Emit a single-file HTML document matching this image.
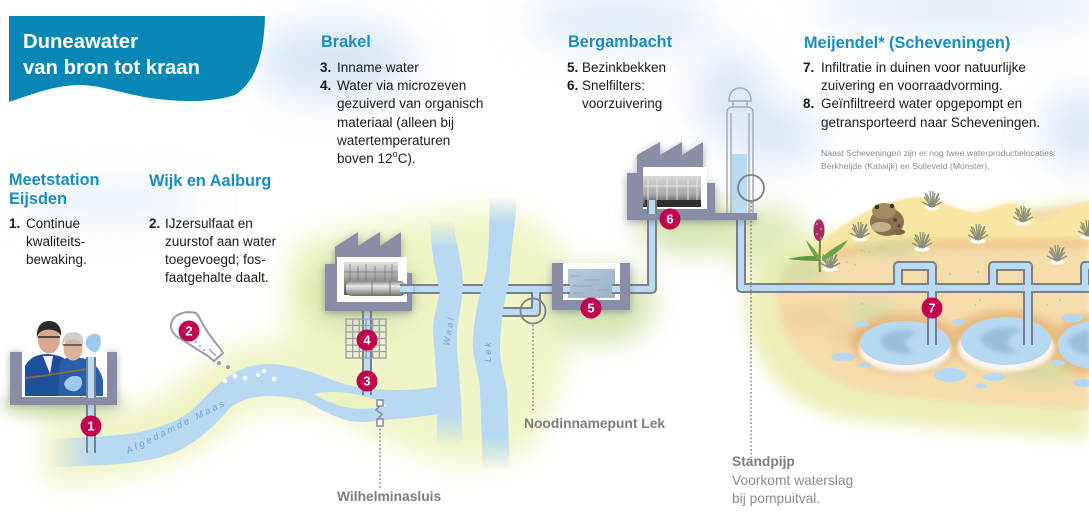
<!DOCTYPE html>
<html><head><meta charset="utf-8">
<style>
html,body{margin:0;padding:0;background:#fff;}
svg{display:block;}
text{font-family:"Liberation Sans",Arial,sans-serif;}
</style></head><body>
<svg width="1089" height="514" viewBox="0 0 1089 514" xmlns="http://www.w3.org/2000/svg" xmlns:xlink="http://www.w3.org/1999/xlink">
<defs>
<filter id="f25" x="-100%" y="-100%" width="300%" height="300%"><feGaussianBlur stdDeviation="20"/></filter>
<filter id="f14" x="-100%" y="-100%" width="300%" height="300%"><feGaussianBlur stdDeviation="14"/></filter>
<filter id="f8" x="-50%" y="-50%" width="200%" height="200%"><feGaussianBlur stdDeviation="8"/></filter>
<filter id="f5" x="-50%" y="-50%" width="200%" height="200%"><feGaussianBlur stdDeviation="5"/></filter>
<filter id="f4" x="-50%" y="-50%" width="200%" height="200%"><feGaussianBlur stdDeviation="4"/></filter>
<filter id="f3" x="-50%" y="-50%" width="200%" height="200%"><feGaussianBlur stdDeviation="3"/></filter>
<filter id="f2" x="-50%" y="-50%" width="200%" height="200%"><feGaussianBlur stdDeviation="2"/></filter>
<filter id="f1" x="-50%" y="-50%" width="200%" height="200%"><feGaussianBlur stdDeviation="1"/></filter>
<linearGradient id="gWaal" gradientUnits="userSpaceOnUse" x1="0" y1="220" x2="0" y2="447">
 <stop offset="0" stop-color="#b7daf2" stop-opacity="0"/>
 <stop offset=".12" stop-color="#b7daf2"/>
 <stop offset=".86" stop-color="#b7daf2"/>
 <stop offset="1" stop-color="#b7daf2" stop-opacity="0"/>
</linearGradient>
<linearGradient id="gLek" gradientUnits="userSpaceOnUse" x1="0" y1="196" x2="0" y2="470">
 <stop offset="0" stop-color="#b7daf2" stop-opacity="0"/>
 <stop offset=".1" stop-color="#b7daf2"/>
 <stop offset=".88" stop-color="#b7daf2"/>
 <stop offset="1" stop-color="#b7daf2" stop-opacity="0"/>
</linearGradient>
<linearGradient id="gMaas" gradientUnits="userSpaceOnUse" x1="50" y1="0" x2="92" y2="0">
 <stop offset="0" stop-color="#b7daf2" stop-opacity="0"/>
 <stop offset="1" stop-color="#b7daf2"/>
</linearGradient>
<linearGradient id="gPh1" x1="0" y1="0" x2="0" y2="1">
 <stop offset="0" stop-color="#e2e2e2"/><stop offset=".5" stop-color="#9a9a9a"/><stop offset="1" stop-color="#5a5a5a"/>
</linearGradient>
<linearGradient id="gRoll" x1="0" y1="0" x2="0" y2="1">
 <stop offset="0" stop-color="#8a8a8a"/><stop offset=".35" stop-color="#e8e8e8"/><stop offset="1" stop-color="#6e6e6e"/>
</linearGradient>
<linearGradient id="gWat" x1="0" y1="0" x2="1" y2="1">
 <stop offset="0" stop-color="#b9cbdb"/><stop offset="1" stop-color="#98b0c6"/>
</linearGradient>
<linearGradient id="gPh6" x1="0" y1="0" x2="0" y2="1">
 <stop offset="0" stop-color="#d8d8d8"/><stop offset=".6" stop-color="#a8a8a8"/><stop offset="1" stop-color="#3a3a3a"/>
</linearGradient>
<g id="tuft">
 <ellipse cx="0" cy="1" rx="8" ry="2.6" fill="#fff" opacity=".85"/>
 <path d="M0,0 L-8,-10 M0,0 L-5,-13 M0,0 L-2,-16 M0,0 L1,-16 M0,0 L3,-14 M0,0 L6,-13 M0,0 L8,-9 M0,0 L-10,-5 M0,0 L10,-5 M-2,0 L-7,-14 M2,0 L7,-14" stroke="#8a917a" stroke-width="1.3" fill="none"/>
</g>
</defs>

<!-- background clouds -->
<g filter="url(#f25)" opacity=".65" fill="#c3dbf0">
 <ellipse cx="335" cy="62" rx="80" ry="40"/>
 <ellipse cx="110" cy="202" rx="95" ry="12"/>
 <ellipse cx="620" cy="22" rx="95" ry="22"/>
 <ellipse cx="730" cy="95" rx="35" ry="45"/>
 <ellipse cx="960" cy="8" rx="150" ry="18"/>
 <ellipse cx="1080" cy="130" rx="35" ry="40"/>
 <ellipse cx="775" cy="135" rx="45" ry="30"/>
</g>

<!-- land hazes -->
<g filter="url(#f14)">
 <path d="M45,452 C100,450 150,440 185,420 C205,408 215,392 235,383 C258,372 290,374 320,380 C350,386 390,387 440,390" stroke="#f0f3c2" stroke-width="64" fill="none"/>
 <path d="M300,240 C350,225 420,215 470,210 C520,205 560,230 570,270 C580,330 560,400 530,450 C500,470 450,470 420,455 C380,440 330,420 300,380 C280,330 280,260 300,240 Z" fill="#f1f4c6"/>
</g>
<g filter="url(#f14)" fill="#cfe2a6" opacity=".9">
 <ellipse cx="362" cy="292" rx="55" ry="38"/>
 <ellipse cx="600" cy="305" rx="55" ry="38"/>
 <ellipse cx="690" cy="225" rx="55" ry="28"/>
 <ellipse cx="765" cy="240" rx="40" ry="35" fill="#dbe9b4"/>
</g>
<ellipse cx="62" cy="405" rx="62" ry="12" fill="#c8dba4" filter="url(#f8)"/>

<!-- dunes -->
<path d="M745,300 C748,265 775,245 810,235 L1089,200 L1089,440 C1000,432 900,428 840,418 C780,405 742,350 745,300 Z" fill="#ecf0b8" filter="url(#f8)"/>
<path d="M778,285 C790,258 825,240 870,228 L1089,205 L1089,410 C1000,406 910,400 860,390 C805,376 770,330 778,285 Z" fill="#f5dcab" filter="url(#f3)"/>
<path d="M808,252 C822,242 840,226 860,215 C878,205 905,196 923,197 C940,199 952,208 963,210 C970,212 974,213 980,212 C992,209 1003,203 1013,203 C1025,205 1032,220 1040,222 C1050,222 1056,212 1064,210 C1075,206 1083,201 1089,200 L1089,245 C1050,246 1000,243 960,243 C910,244 860,248 820,256 Z" fill="#f9e6a3" filter="url(#f1)"/>
<path d="M830,254 C880,246 940,243 1000,244 C1040,245 1070,243 1089,242" stroke="#ebc58c" stroke-width="9" fill="none" filter="url(#f4)" opacity=".85"/>
<g filter="url(#f8)" fill="#c9dca2" opacity=".85">
 <ellipse cx="890" cy="248" rx="30" ry="7"/>
 <ellipse cx="870" cy="313" rx="30" ry="8"/>
 <ellipse cx="1040" cy="372" rx="35" ry="9"/>
 <ellipse cx="800" cy="272" rx="25" ry="10"/>
</g>
<g filter="url(#f8)" fill="#e9c08c" opacity=".75">
 <ellipse cx="810" cy="318" rx="28" ry="6"/>
 <ellipse cx="850" cy="335" rx="20" ry="6"/>
</g>
<!-- pond halos -->
<g filter="url(#f4)" fill="#e3ad70" opacity=".7">
 <ellipse cx="905" cy="343" rx="55" ry="30"/>
 <ellipse cx="1006" cy="341" rx="56" ry="31"/>
 <ellipse cx="1089" cy="345" rx="40" ry="30"/>
</g>
<g fill="#fff" opacity=".85" filter="url(#f2)">
 <ellipse cx="905" cy="350" rx="46" ry="22"/>
 <ellipse cx="1006" cy="348" rx="48" ry="24"/>
</g>
<g fill="#b6d8f1">
 <ellipse cx="905" cy="343" rx="45" ry="22"/>
 <ellipse cx="1006" cy="341" rx="45" ry="24"/>
 <ellipse cx="1094" cy="345" rx="36" ry="24"/>
 <ellipse cx="862" cy="324" rx="7" ry="3"/>
 <ellipse cx="843" cy="357" rx="12" ry="4.5"/>
 <ellipse cx="865" cy="365" rx="6" ry="2.5"/>
 <ellipse cx="958" cy="322" rx="6" ry="3"/>
 <ellipse cx="950" cy="375" rx="16" ry="7"/>
 <ellipse cx="994" cy="377" rx="11" ry="4"/>
 <ellipse cx="981" cy="386" rx="6" ry="2.5"/>
 <ellipse cx="1072" cy="318" rx="11" ry="4"/>
 <ellipse cx="1058" cy="363" rx="7" ry="3"/>
 <ellipse cx="1083" cy="383" rx="10" ry="4"/>
</g>
<g fill="#94b9d8" filter="url(#f2)" opacity=".8">
 <path d="M880,340 C885,330 905,328 918,333 C905,336 900,346 915,352 C900,356 883,352 880,340 Z"/>
 <path d="M980,338 C987,328 1007,325 1022,330 C1007,334 1002,345 1018,352 C1002,356 984,350 980,338 Z"/>
 <path d="M1068,340 C1075,332 1089,330 1089,330 L1089,355 C1078,354 1070,348 1068,340 Z"/>
</g>
<g fill="#a9d3a0" opacity=".8">
 <circle cx="862" cy="250" r="1.2"/><circle cx="870" cy="252" r="1.2"/><circle cx="880" cy="248" r="1.2"/>
 <circle cx="950" cy="274" r="1.2"/><circle cx="980" cy="300" r="1.2"/><circle cx="1047" cy="305" r="1.2"/>
 <circle cx="1060" cy="300" r="1.2"/><circle cx="847" cy="262" r="1.2"/><circle cx="855" cy="265" r="1.2"/>
 <circle cx="862" cy="304" r="1.2"/><circle cx="978" cy="272" r="1.2"/><circle cx="975" cy="305" r="1.2"/>
</g>
<!-- tufts -->
<use xlink:href="#tuft" x="932" y="207"/>
<use xlink:href="#tuft" x="1023" y="222"/>
<use xlink:href="#tuft" x="978" y="240"/>
<use xlink:href="#tuft" x="922" y="248"/>
<use xlink:href="#tuft" x="1057" y="261"/>
<use xlink:href="#tuft" x="1088" y="236"/>
<use xlink:href="#tuft" x="860" y="238"/>
<use xlink:href="#tuft" x="830" y="268"/>
<!-- toad -->
<g>
 <ellipse cx="887" cy="222" rx="17" ry="14" fill="#8a7352"/>
 <ellipse cx="884" cy="211" rx="12" ry="8" fill="#a58b62"/>
 <ellipse cx="881" cy="227" rx="10" ry="5" fill="#c6b08a"/>
 <circle cx="877" cy="207" r="2.2" fill="#3c3020"/><circle cx="892" cy="206" r="2.2" fill="#3c3020"/>
 <circle cx="895" cy="220" r="2" fill="#5a4a32"/><circle cx="899" cy="226" r="1.6" fill="#5a4a32"/>
 <ellipse cx="898" cy="232" rx="7" ry="3" fill="#7c6648"/>
</g>
<!-- orchid -->
<g>
 <path d="M820,272 C819,260 820,250 820,240" stroke="#5f8a3a" stroke-width="2" fill="none"/>
 <path d="M820,261 C808,261 795,260 788,259 C800,256 812,255 820,257 Z" fill="#5f9a3e"/>
 <path d="M822,257 C830,250 840,244 848,240 C842,250 832,257 822,261 Z" fill="#6aa548"/>
 <path d="M818,261 C812,254 808,246 806,240 C813,247 818,254 820,258 Z" fill="#6aa548"/>
 <ellipse cx="819" cy="230" rx="5.5" ry="11" fill="#a32c62"/>
 <g fill="#d0608f"><circle cx="817" cy="224" r="1.3"/><circle cx="821" cy="229" r="1.3"/><circle cx="817" cy="234" r="1.3"/><circle cx="821" cy="238" r="1.3"/><circle cx="819" cy="220" r="1.2"/></g>
</g>

<!-- Maas river -->
<path d="M50,439 C90,437 120,436 140,432 C165,426 180,420 192,410 C205,398 215,385 232,374 C245,367 255,364 270,364 C295,365 315,373 335,381 C355,388 375,390 400,390 C415,390 428,388 440,386 L440,414 C425,416 410,418 395,419 C375,421 360,424 345,420 C330,415 318,408 305,401 C292,397 280,396 265,396 C252,397 240,400 230,408 C215,425 200,440 180,450 C160,460 130,464 100,465 C80,466 65,467 50,467 Z" fill="url(#gMaas)"/>
<path d="M314,394 C330,390 350,392 370,398 C378,400 384,403 388,406 C370,410 350,410 335,404 C325,400 318,397 314,394 Z" fill="#eef2c2"/>

<!-- pipes gray -->
<g stroke="#7e7f88" stroke-width="10" fill="none" stroke-linejoin="round">
 <path d="M91,357 V453"/>
 <path d="M367,310 V395"/>
 <path d="M408,289 H553"/>
 <path d="M536,289 V312 H502"/>
 <path d="M629,289 H652 V219"/>
 <path d="M741,219 V288 H1089"/>
 <path d="M898,288 V266 H932 V345"/>
 <path d="M993,288 V266 H1028 V345"/>
 <path d="M1085,288 V266 H1095"/>
</g>
<g stroke="#b8dcf3" stroke-width="6" fill="none" stroke-linejoin="round">
 <path d="M91,357 V454"/>
 <path d="M367,310 V396"/>
 <path d="M408,289 H553"/>
 <path d="M536,289 V312 H501"/>
 <path d="M629,289 H652 V219"/>
 <path d="M741,219 V288 H1089"/>
 <path d="M898,288 V266 H932 V346"/>
 <path d="M993,288 V266 H1028 V346"/>
 <path d="M1085,288 V266 H1095"/>
</g>

<!-- Waal & Lek -->
<path d="M430,220 C431,245 433,262 440,292 C436,310 432,322 433,335 C435,355 437,380 437,400 L437,447 L463,447 L461,400 C459,370 456,345 457,333 C458,318 463,300 463,283 C462,260 455,240 453,220 Z" fill="url(#gWaal)"/>
<path d="M490,196 C489,230 489,250 487,267 C484,285 478,298 477,307 C474,325 472,340 473,350 C475,365 480,380 480,390 L483,470 L510,470 L507,390 C504,375 500,360 500,350 C500,335 502,320 503,310 C506,295 510,280 510,267 C512,240 516,220 517,196 Z" fill="url(#gLek)"/>
<text transform="translate(449,346) rotate(-80)" font-size="9" font-style="italic" fill="#6ba4d1" letter-spacing="2.5">Waal</text>
<text transform="translate(491,362) rotate(-90)" font-size="9" font-style="italic" fill="#6ba4d1" letter-spacing="2.5">Lek</text>
<text transform="translate(128,454) rotate(-26.5)" font-size="9.5" font-style="italic" fill="#6ba4d1" letter-spacing="2.6">Afgedamde Maas</text>

<!-- Meetstation box -->
<path d="M10,352 H22 V397 H107 V352 H117 V405 H10 Z" fill="#6c6e80" filter="url(#f4)" opacity=".5"/>
<rect x="22" y="352" width="85" height="45" fill="#fff"/>
<g>
 <path d="M25,396 L25,366 C30,357 38,354 48,354 C56,355 62,356 66,360 L70,396 Z" fill="#1e4f9b"/>
 <path d="M43,356 L53,356 L50,374 Z" fill="#f2f2f2"/>
 <path d="M58,396 L60,362 C66,356 74,357 82,358 C92,360 100,368 103,380 L103,396 Z" fill="#2a5ea8"/>
 <ellipse cx="49" cy="340" rx="11" ry="13.5" fill="#d9a88e"/>
 <path d="M37,338 C36,326 42,321 49,321 C57,321 62,327 61,336 C58,330 51,329 45,330 C40,331 38,334 37,338 Z" fill="#2e2a28"/>
 <path d="M38,337 H60" stroke="#222" stroke-width="1.5"/>
 <ellipse cx="73" cy="349" rx="9.5" ry="11.5" fill="#dcb49b"/>
 <path d="M62,346 C61,336 67,332 74,332 C81,332 84,338 83,345 C80,340 75,339 70,340 C66,341 63,343 62,346 Z" fill="#cfcfcf"/>
 <path d="M63,345 H82" stroke="#333" stroke-width="1.3"/>
 <path d="M86,340 C88,334 96,332 100,336 C102,342 100,350 96,352 C92,353 88,349 86,345 Z" fill="#9fc9ec"/>
 <path d="M64,384 C66,377 74,374 80,377 C84,381 82,389 76,391 C70,392 65,389 64,384 Z" fill="#9fc9ec"/>
 <path d="M25,378 C45,376 65,372 95,368" stroke="#8b6a3c" stroke-width="1.8" fill="none"/>
</g>
<path d="M10,352 H22 V397 H107 V352 H117 V405 H10 Z" fill="#898ca5"/>
<g stroke="#7e7f88" stroke-width="10"><path d="M91,357 V397"/></g>
<g stroke="#b8dcf3" stroke-width="6"><path d="M91,357 V398"/></g>

<!-- shaker -->
<path d="M172,331 C167,319 180,309 196,313 L199,317 C205,329 212,339 219,347 L223,353 L214,361 L208,356 C198,350 186,342 176,336 Z" fill="#fff" stroke="#9b9bb0" stroke-width="2" stroke-linejoin="round"/>
<path d="M209,349 L216,356" stroke="#9b9bb0" stroke-width="1.5"/>
<g fill="#9b9bb0"><circle cx="196" cy="342" r="1"/><circle cx="200" cy="346" r="1"/><circle cx="204" cy="350" r="1"/>
<circle cx="219" cy="363" r="2"/><circle cx="228" cy="367" r="2"/></g>
<g fill="#fff"><circle cx="225" cy="381" r="2.2"/><circle cx="235" cy="376" r="2.2"/><circle cx="245" cy="378" r="2.2"/><circle cx="258" cy="375" r="2.2"/><circle cx="264" cy="371" r="2.2"/><circle cx="274" cy="379" r="2.2"/></g>

<!-- Brakel factory -->
<path d="M325,264 H335 V247 L358,232 V246 L380,232 V246 L401,232 V273 H412 V311 H325 Z" fill="#5c5f72" filter="url(#f4)" opacity=".55" transform="translate(0,2)"/>
<path d="M325,264 H335 V247 L358,232 V246 L380,232 V246 L401,232 V273 H412 V311 H325 Z" fill="#8a8da6"/>
<rect x="337" y="257" width="70" height="45" fill="#fff"/>
<rect x="344" y="262" width="54" height="33" fill="url(#gPh1)"/>
<g stroke="#666" stroke-width=".8" opacity=".7"><path d="M350,264 V285 M358,266 V283 M366,264 V282 M375,266 V283 M385,265 V282 M392,264 V283 M344,272 H398"/></g>
<rect x="346" y="281" width="60" height="15" rx="6" fill="url(#gRoll)"/>
<path d="M372,281 V296 M390,281 V296" stroke="#777" stroke-width="1"/>
<g stroke="#7e7f88" stroke-width="10"><path d="M400,289 H412"/></g>
<g stroke="#b8dcf3" stroke-width="6"><path d="M400,289 H413"/></g>
<!-- micro sieve grid -->
<g stroke="#9a9cb4" stroke-width="1.3" fill="none">
 <rect x="346" y="319" width="40" height="39"/>
 <path d="M352.7,319 V358 M359.3,319 V358 M366,319 V358 M372.7,319 V358 M379.3,319 V358 M346,325.5 H386 M346,332 H386 M346,338.5 H386 M346,345 H386 M346,351.5 H386"/>
</g>
<!-- lock -->
<g stroke="#8c8ea6" stroke-width="1.6" fill="#fff">
 <rect x="377" y="400" width="6" height="6"/>
 <rect x="377" y="419" width="6" height="7"/>
 <path d="M380,406 L376,410 L382,414 L378,419" fill="none"/>
</g>
<g stroke="#8a8a8a" stroke-width="1.6" stroke-dasharray="1.6 2.2" fill="none">
 <path d="M380,429 V490"/>
 <path d="M533,325 V412"/>
 <path d="M751,202 V458"/>
</g>
<!-- Noodinname circle -->
<circle cx="533" cy="311" r="12.5" fill="none" stroke="#7e7f88" stroke-width="1.8"/>

<!-- Basin 5 -->
<path d="M552,263 H563 V300 H620 V263 H630 V310 H552 Z" fill="#5c5f72" filter="url(#f4)" opacity=".5" transform="translate(0,2)"/>
<rect x="563" y="263" width="57" height="37" fill="#fff"/>
<rect x="568" y="269" width="47" height="29" fill="url(#gWat)"/>
<g stroke="#7c93aa" stroke-width=".8" opacity=".7"><path d="M570,276 h10 M585,280 h14 M572,286 h20 M598,290 h12 M574,293 h9"/></g>
<g stroke="#7e7f88" stroke-width="10"><path d="M563,289 H570 M612,289 H620"/></g>
<g stroke="#b8dcf3" stroke-width="6"><path d="M563,289 H570 M612,289 H620"/></g>
<path d="M552,263 H563 V300 H620 V263 H630 V310 H552 Z" fill="#8a8da6"/>

<!-- Bergambacht factory -->
<path d="M627,173 H637 V155 L660,142 V155 L682,142 V155 L703,142 V183 H715 V213 H757 V220 H627 Z" fill="#5c5f72" filter="url(#f4)" opacity=".55" transform="translate(0,2)"/>
<path d="M627,173 H637 V155 L660,142 V155 L682,142 V155 L703,142 V183 H715 V213 H757 V220 H627 Z" fill="#8a8da6"/>
<rect x="643" y="167" width="64" height="42" fill="#fff"/>
<rect x="643" y="176" width="58" height="31" fill="url(#gPh6)"/>
<g stroke="#eee" stroke-width="1" opacity=".8"><path d="M648,178 V200 M657,178 V200 M667,178 V200 M677,178 V200 M688,178 V200 M697,178 V200 M645,186 H701"/></g>
<rect x="645" y="200" width="56" height="7" fill="#2e2e2e"/>
<g stroke="#7e7f88" stroke-width="10"><path d="M652,200 V214"/></g>
<g stroke="#b8dcf3" stroke-width="6"><path d="M652,200 V214"/></g>

<!-- standpipe -->
<rect x="732" y="154" width="15" height="59" fill="#b9dcf3"/>
<g stroke="#a9a9bb" stroke-width="1.5" fill="none">
 <path d="M727,213 V112 C727,108 731,107 734,107 H746 C749,107 753,108 753,112 V213"/>
 <path d="M731,213 V113 M749,213 V113"/>
 <path d="M733,107 V101 H747 V107"/>
 <path d="M729,101 C729,92 734,88 740,88 C746,88 751,92 751,101 Z"/>
</g>
<circle cx="751" cy="188" r="13" fill="none" stroke="#7e7f88" stroke-width="1.8"/>
<rect x="715" y="213" width="42" height="7" fill="#8a8da6"/>

<!-- badges -->
<g fill="#c1004f">
 <circle cx="91" cy="426" r="10.5"/>
 <circle cx="189" cy="331" r="10.5"/>
 <circle cx="367" cy="381" r="10.5"/>
 <circle cx="367" cy="340" r="10.5"/>
 <circle cx="591" cy="308" r="10.5"/>
 <circle cx="670" cy="219" r="10.5"/>
 <circle cx="932" cy="308" r="10.5"/>
</g>
<g fill="#fff" font-weight="bold" font-size="13" text-anchor="middle">
 <text x="91" y="430.5">1</text>
 <text x="189" y="335.5">2</text>
 <text x="367" y="385.5">3</text>
 <text x="367" y="344.5">4</text>
 <text x="591" y="312.5">5</text>
 <text x="670" y="223.5">6</text>
 <text x="932" y="312.5">7</text>
</g>

<!-- title banner -->
<path d="M9,16 H265 C264,50 258,80 235,95 C210,103 180,102 150,98 C120,93 100,85 80,85 C55,85 30,95 9,102 Z" fill="#0787b6"/>
<g fill="#fff" font-weight="bold" font-size="20.3">
 <text x="23" y="48">Duneawater</text>
 <text x="23" y="74">van bron tot kraan</text>
</g>

<!-- headings -->
<g fill="#1b8cc2" font-weight="bold" font-size="16.3">
 <text x="9" y="185">Meetstation</text>
 <text x="9" y="204">Eijsden</text>
 <text x="149" y="186">Wijk en Aalburg</text>
 <text x="321" y="47">Brakel</text>
 <text x="568" y="47">Bergambacht</text>
 <text x="804" y="48">Meijendel* (Scheveningen)</text>
</g>

<!-- body text -->
<g fill="#1a1a1a" font-size="13.5">
 <text x="9" y="228" font-weight="bold">1.</text>
 <text x="26" y="228">Continue</text>
 <text x="26" y="246">kwaliteits-</text>
 <text x="26" y="264">bewaking.</text>

 <text x="149" y="228" font-weight="bold">2.</text>
 <text x="165" y="228">IJzersulfaat en</text>
 <text x="165" y="246">zuurstof aan water</text>
 <text x="165" y="264">toegevoegd; fos-</text>
 <text x="165" y="282">faatgehalte daalt.</text>

 <text x="320" y="72" font-weight="bold">3.</text>
 <text x="337" y="72">Inname water</text>
 <text x="320" y="90" font-weight="bold">4.</text>
 <text x="337" y="90">Water via microzeven</text>
 <text x="337" y="108">gezuiverd van organisch</text>
 <text x="337" y="127">materiaal (alleen bij</text>
 <text x="337" y="145">watertemperaturen</text>
 <text x="337" y="163">boven 12<tspan font-size="9" dy="-6">o</tspan><tspan dy="6">C).</tspan></text>

 <text x="567" y="72" font-weight="bold">5.</text>
 <text x="582" y="72">Bezinkbekken</text>
 <text x="567" y="90" font-weight="bold">6.</text>
 <text x="582" y="90">Snelfilters:</text>
 <text x="582" y="108">voorzuivering</text>

 <text x="803" y="72" font-weight="bold">7.</text>
 <text x="821" y="72">Infiltratie in duinen voor natuurlijke</text>
 <text x="821" y="90">zuivering en voorraadvorming.</text>
 <text x="803" y="108" font-weight="bold">8.</text>
 <text x="821" y="108">Geïnfiltreerd water opgepompt en</text>
 <text x="821" y="127">getransporteerd naar Scheveningen.</text>
</g>
<g fill="#8a8a8a" font-size="8.7">
 <text x="821" y="156">Naast Scheveningen zijn er nog twee waterproductielocaties:</text>
 <text x="821" y="169">Berkheijde (Katwijk) en Solleveld (Monster).</text>
</g>

<!-- bottom labels -->
<g fill="#7d7d7d" font-size="13.8">
 <text x="524" y="428" font-weight="bold">Noodinnamepunt Lek</text>
 <text x="337" y="501" font-weight="bold">Wilhelminasluis</text>
 <text x="732" y="466" font-weight="bold">Standpijp</text>
 <text x="732" y="485" fill="#8c8c8c">Voorkomt waterslag</text>
 <text x="732" y="503" fill="#8c8c8c">bij pompuitval.</text>
</g>
</svg>
</body></html>
